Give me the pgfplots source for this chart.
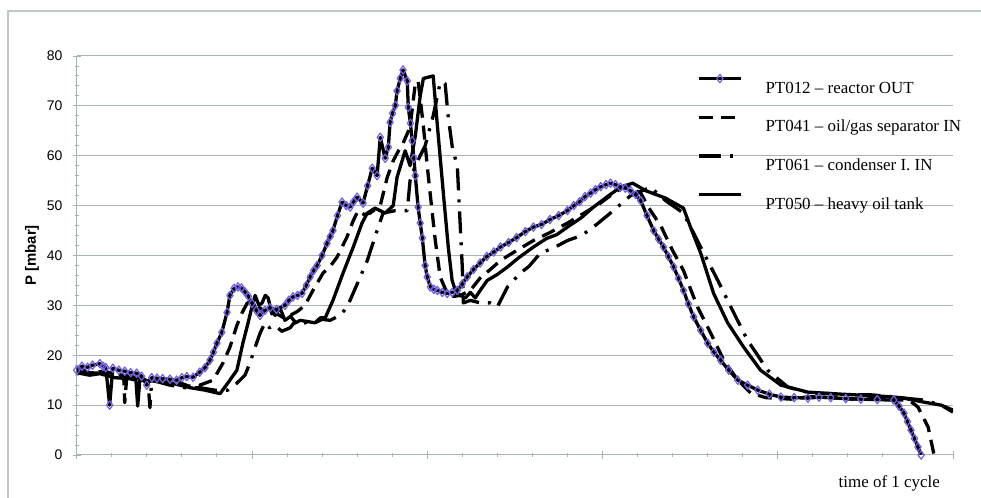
\documentclass[border=0pt]{standalone}
\usepackage{pgfplots}
\pgfplotsset{compat=1.18}
\usepackage{fontspec}
\setmainfont{Liberation Serif}
\newfontfamily\arial{Liberation Sans}
\definecolor{gridcol}{RGB}{168,178,176}
\definecolor{bordercol}{RGB}{190,200,198}
\definecolor{diamondcol}{RGB}{112,96,230}

\pgfplotstableread{
x y
0 17
1.5 17.8
3.1 17.6
4.5 18
6.6 18.3
7.5 17.8
8.3 17.5
9.4 10
10.3 17.4
12 17
13.7 16.8
15.4 16.5
17.1 16.4
18.5 15.8
20 14
21.4 15.5
22.9 15.4
24.5 15.3
26.6 15.2
28.5 15
30 15.5
31.4 15.7
33.2 15.6
35.1 16.6
36.6 17.5
38 19
39 20.6
40 22.4
41.4 24.6
42.9 28.6
43.7 32
44.9 33.4
46 33.7
47 33.5
48 32.7
49 31.8
50 30.4
51.2 29
52.3 28
53.7 29
55.1 29.5
57 29.2
59.4 30
60.5 31
61.7 31.7
63 32
64.3 32.4
65.5 34
66.6 35.7
67.6 37
68.6 38
70 40
71.4 42.4
72.3 43.8
73.1 45
74.4 48
75.7 50.7
76.9 50
78 49.7
79 50.8
80 51.7
81.7 50.5
83 54
84.3 57.5
85.7 56
86.6 63.7
88 59.5
88.9 61.7
89.4 66.7
90.1 68.5
90.9 70.1
91.4 73
92.3 75.5
93.1 77.2
94.3 75
94.6 69.7
95.2 66.5
95.7 63
96.2 59.5
96.6 56
97.4 49.7
98 46.5
98.6 43.5
99.4 38
100 35.7
100.9 33.7
101.9 33.2
102.9 33
104.3 32.6
105.7 32.4
107.1 32.6
108.6 33
110 34.3
111.4 35.7
113.2 37.2
115.1 38.5
117 39.8
119 40.7
120.9 41.7
123.2 42.6
125.5 43.6
128 44.8
130.3 45.7
132.6 46.2
135 47.2
137.5 48
140 49
141.8 50
143.5 50.8
145 51.8
146.6 52.5
148 53.2
149.5 53.8
151 54.2
152.3 54.5
153.7 54.2
155.1 53.7
156.5 53.5
158 53
159.5 52.2
160.9 51
162.7 48
164.6 45
166 43.3
167.4 41.7
168.8 39.8
170.3 37.7
171.7 35.4
173.1 33
174.5 30.3
176 27.7
178 25
180 22.4
181.8 20.6
183.7 19
186 17
188.6 15
191.4 14
194.3 13
197.6 12.2
200.9 11.6
204.7 11.5
208.6 11.4
211.8 11.6
215.1 11.5
219.4 11.3
223.7 11.2
228.4 11.1
233.1 11
234.6 9.8
236 8.4
237 6.7
238 5
239 3.3
240 1.6
240.9 0
}\ptA

\pgfplotstableread{
x y
0 17
3.7 16.5
8 16.8
11.7 16
13.4 16
13.7 10.5
14.3 15.8
18 15.5
21 14.6
23.7 14.8
26.5 14.2
29.4 14.5
32 13.8
35.1 14
38.9 15
41.7 18.4
43.7 21.6
45.7 26
47.1 28.4
48.6 30.4
50 31
51.2 29.2
52.3 29.5
54.5 28.2
56.6 28.5
58.8 27.6
60.9 28
63 28.8
65.1 30
67.4 33
70.3 36.5
72.3 37.8
74.3 39.7
77.1 43.7
78.9 47
80.3 49
82 48.2
83.7 48.5
86.6 50
88.6 55.7
90.3 59
91.8 61
93.1 62.5
95.1 65.7
96.6 74.5
97.4 75
98.9 66
100 58
100.9 52
102.3 43
103.7 35.7
105.7 32.4
107.5 31.8
109.4 32
112.3 33
115.1 35.5
118 37.2
120.9 39
125.5 41
130.3 43
135 44.6
140 46.5
145 48.6
149.4 50.5
153 52.4
156.6 54
160.9 52.5
163.7 49
166.6 46
170 41
173.1 37
175 33.5
177.1 29.7
180.9 24.4
184.6 19
188.6 15
192.3 12.4
196.6 11.5
203.7 11.2
209 11.7
215.1 11.5
221 11.2
226.6 11.3
231 11.1
236.6 11
238.6 10.4
240 9.6
242.9 5.6
244.6 0
}\ptB

\pgfplotstableread{
x y
0 17.5
3.7 16.5
9.4 16.3
15.1 15.8
20.3 15
20.9 9.5
21.4 15
26.6 14
30.9 13.5
35.1 13.5
39.4 13
43.1 13
45.7 14.4
48 16
49.4 18.4
50.9 21.6
52.3 24.4
53.7 26.5
55 25.5
56.6 26
58.5 24.8
60.9 25.5
62 26.5
63.7 26
66 26.8
68 26.5
70 27.2
72.3 27
75.1 28
77.1 29.6
80.9 35.7
82.9 39
85.7 45
87.4 48.5
90.9 49
94.3 49
95.1 55
96.6 58
99.4 62
101.7 68
103.7 74.7
105.1 74.5
106 67.7
107.1 62
108.6 57.7
110 37.7
110.3 30.5
112.3 31
115.1 30.5
118 30.5
120 29.7
122.9 33.7
126.6 36.5
129 37.8
132.3 40.5
136 41.5
140 43
144 44
147.4 45.7
150 47.2
153.1 49
158 52
163.7 53.7
168 51
173.1 48.5
178 41.7
182.9 35
186.6 29.7
191.4 23
197.1 17
202.9 13.6
209.4 12.4
215 12.3
220.9 12
226 12.1
232.3 11.7
241.7 11
246.6 10
250 8.6
}\ptC

\pgfplotstableread{
x y
0 16.5
3.7 16
6.6 16.3
10.9 15.5
15.1 15.3
16.9 15
17.4 9.8
18 15
22.3 14.8
26.6 14.5
32.3 13.5
36.6 13
40.9 12.3
43.7 15
45.7 17
47.4 22.4
48.9 26.5
50 29.7
50.9 32
52 30
52.9 30.5
53.8 32
54.6 31.5
55.5 29
56.6 28
58 29.5
59.4 27
61 27.8
62.5 26.5
63.7 27
65.5 26.8
68 26.5
69.5 27.5
70.9 27.5
73.1 31
76 36.5
78.9 41.7
81.4 46.5
82.9 48.5
85.1 49.5
88 48.5
90.3 50
91.4 55.7
93.7 61
95.1 58
96.6 64
98 72
98.9 75.5
101.7 76
102.9 66
104.6 52.5
106 41.7
107.1 35
108.3 32.4
110.9 31.5
112.3 32.6
113.7 31.5
115.5 33.4
117.1 35
120 36.2
122.9 37.7
126 39.5
130.3 41.7
134 43.4
137 44.2
140 45.7
144 47.6
147.4 49.7
151 51.6
155.1 53.7
158.6 54.5
162.3 53
168 51.5
173.1 49.5
175.1 45.7
178 40.5
181.7 32.4
185.7 26.5
190.3 21.6
195.1 17
200.9 14
208.6 12.6
218 12.2
229.4 11.8
235.1 11.5
241.7 10.6
246.6 10
250 9
}\ptD

\begin{document}
\begin{tikzpicture}[x=1bp,y=1bp]
\useasboundingbox (0,0) rectangle (981,498);
\draw[bordercol, line width=1.3bp] (8,0) -- (8,487) -- (981,487);
\begin{axis}[
  at={(76.7bp,43bp)}, anchor=south west,
  width=876.3bp, height=399bp, scale only axis,
  xmin=0, xmax=250, ymin=0, ymax=80,
  axis x line*=bottom, axis y line*=left,
  axis line style={gridcol, line width=1bp, -},
  xtick={0,50,...,250}, xticklabels={},
  ytick={0,10,...,80},
  minor x tick num=4, minor y tick num=4,
  tick align=center,
  major tick length=8bp, minor tick length=4bp,
  tick style={gridcol, line width=0.9bp},
  ymajorgrids, grid style={gridcol, line width=1bp},
  /pgf/number format/assume math mode=true,
  yticklabel style={font=\arial\fontsize{14}{16}\selectfont, anchor=east, inner sep=0pt, xshift=-10bp},
  ylabel={P [mbar]},
  every axis y label/.style={at={(axis description cs:-0.051,0.5)}, rotate=90, anchor=center, font=\arial\bfseries\fontsize{15}{17}\selectfont},
  xlabel={time of 1 cycle},
  every axis x label/.style={at={(axis description cs:0.9852,-0.0827)}, anchor=base east, inner sep=0pt, font=\fontsize{17}{19}\selectfont},
  legend image code/.code={\draw[mark repeat=2,mark phase=2,#1] plot coordinates {(0bp,8bp) (21bp,8bp) (42bp,8bp)};},
  legend style={at={(axis description cs:0.7079,0.9544)}, anchor=north west, draw=none, fill=none, inner sep=0pt,
    font=\fontsize{17}{19}\selectfont, row sep=17.7bp, column sep=23bp,
    nodes={inner sep=0pt, text height=17bp, text depth=4bp}},
  legend cell align=left,
  reverse legend,
  line join=round,
]
\addplot[black, line width=3.3bp, no marks] table[x=x,y=y] {\ptD};
\addlegendentry{PT050 -- heavy oil tank}
\addplot[black, line width=3.3bp, no marks, dash pattern=on 22bp off 9bp on 3bp off 9bp] table[x=x,y=y] {\ptC};
\addlegendentry{PT061 -- condenser I. IN}
\addplot[black, line width=3.3bp, no marks, dash pattern=on 14bp off 8bp] table[x=x,y=y] {\ptB};
\addlegendentry{PT041 -- oil/gas separator IN}
\addplot[black, line width=3.3bp, mark=diamond, mark size=4.2bp, mark options={solid, draw=diamondcol, fill=none, line width=1.2bp}] table[x=x,y=y] {\ptA};
\addlegendentry{PT012 -- reactor OUT}
\end{axis}
\end{tikzpicture}
\end{document}
